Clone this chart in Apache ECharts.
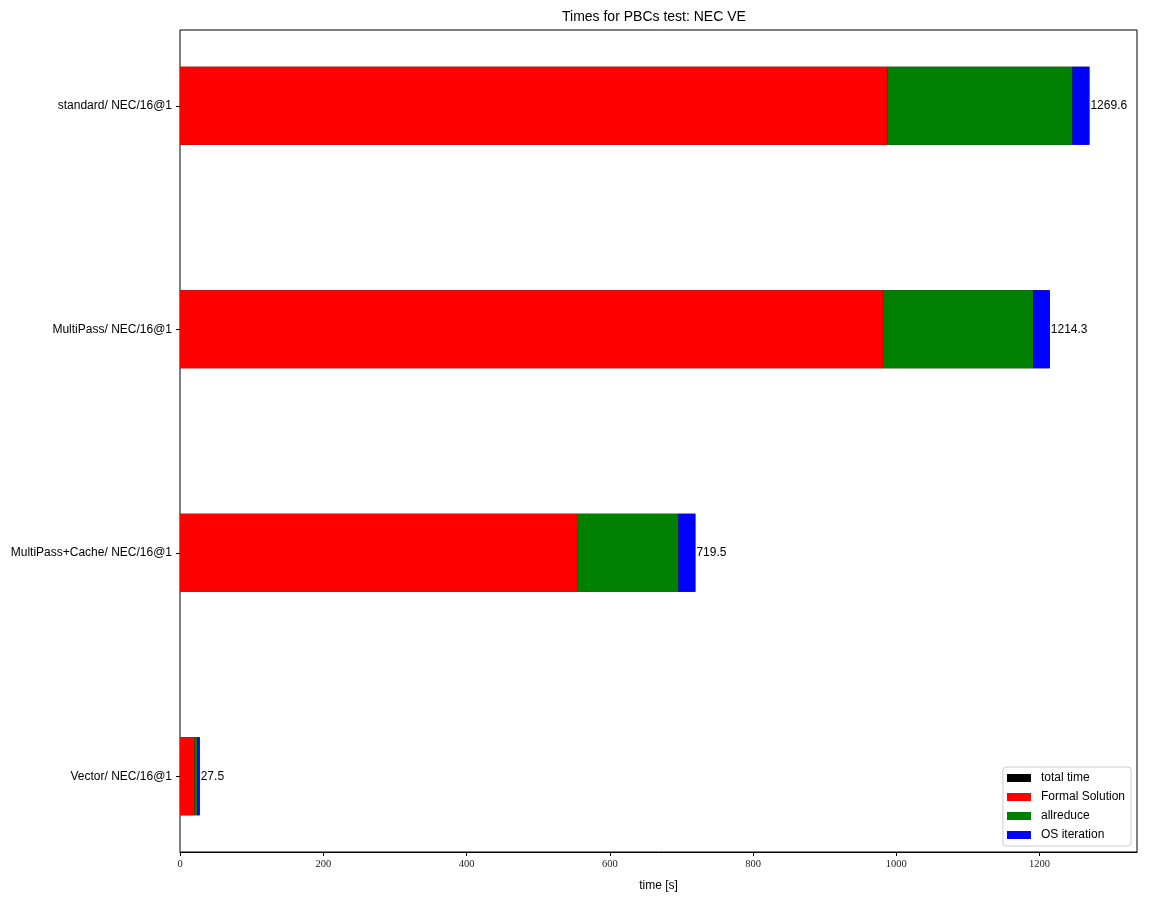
<!DOCTYPE html>
<html>
<head>
<meta charset="utf-8">
<script src="https://cdn.jsdelivr.net/npm/echarts@6/dist/echarts.min.js"></script>
<style>html,body{margin:0;padding:0;background:#fff;}#chart{width:1152px;height:902px;}</style>
</head>
<body>
<div id="chart"></div>
<script>
// categories listed bottom-to-top (ECharts category y-axis grows upward)
const categories = ['Vector/ NEC/16@1', 'MultiPass+Cache/ NEC/16@1', 'MultiPass/ NEC/16@1', 'standard/ NEC/16@1'];
const totalTime = [27.5, 719.5, 1214.3, 1269.6];
const formalSolution = [20.4, 554.4, 981.7, 987.7];
const allreduce = [3.3, 141.5, 209.5, 258.3];
const osIteration = [3.7, 23.5, 23.0, 23.5];
const xTicks = [0, 200, 400, 600, 800, 1000, 1200];

const xMax = 1336;
const font = 'Liberation Sans';
const chart = echarts.init(document.getElementById('chart'), null, {renderer: 'canvas'});
chart.setOption({
  animation: false,
  backgroundColor: '#fff',
  title: {
    text: 'Times for PBCs test: NEC VE',
    left: 562, top: 10, padding: 0,
    textStyle: {fontFamily: font, fontSize: 14, fontWeight: 'normal', color: '#000'}
  },
  legend: {
    orient: 'vertical', right: 21, bottom: 56, align: 'left',
    data: ['total time', 'Formal Solution', 'allreduce', 'OS iteration'],
    icon: 'rect', itemWidth: 24, itemHeight: 8, itemGap: 7,
    padding: [5, 6, 5, 4],
    borderColor: '#cccccc', borderWidth: 1, borderRadius: 3, backgroundColor: '#fff',
    textStyle: {fontFamily: font, fontSize: 12, color: '#000', lineHeight: 12, padding: [0, 0, 0, 5]}
  },
  grid: [
    {left: 180, right: 15, top: 30, bottom: 50, show: true, borderColor: '#000', borderWidth: 1,
      backgroundColor: 'transparent', outerBoundsMode: 'none', containLabel: false},
    {left: 180, right: 15, top: -6, height: 894, outerBoundsMode: 'none', containLabel: false}
  ],
  xAxis: [
    {
      gridIndex: 0, type: 'value', min: 0, max: xMax, interval: 200,
      name: 'time [s]', nameLocation: 'middle', nameGap: 28,
      nameTextStyle: {fontFamily: font, fontSize: 12, color: '#000'},
      axisLine: {show: true, lineStyle: {color: '#000', width: 1}},
      axisTick: {show: true, inside: false, length: 4, lineStyle: {color: '#000'}, customValues: xTicks},
      axisLabel: {
        fontFamily: 'Liberation Serif', fontSize: 10.5, color: '#222', margin: 7,
        customValues: xTicks, formatter: v => String(v)
      },
      splitLine: {show: false}
    },
    {gridIndex: 1, type: 'value', min: 0, max: xMax, show: false}
  ],
  yAxis: [
    {gridIndex: 0, type: 'value', show: false, min: 0, max: 1},
    {
      gridIndex: 1, type: 'category', data: categories,
      axisLine: {show: false},
      axisTick: {show: true, alignWithLabel: true, length: 4, lineStyle: {color: '#000'}},
      axisLabel: {fontFamily: font, fontSize: 12, color: '#000', margin: 8},
      splitLine: {show: false}
    }
  ],
  series: [
    {
      name: 'total time', type: 'bar', xAxisIndex: 1, yAxisIndex: 1, data: totalTime,
      barWidth: 78, barGap: '-100%', itemStyle: {color: '#000'},
      label: {show: true, position: 'right', distance: 1, fontFamily: font, fontSize: 12, color: '#000',
        formatter: p => p.value.toFixed(1)}
    },
    {name: 'Formal Solution', type: 'bar', stack: 'parts', xAxisIndex: 1, yAxisIndex: 1, data: formalSolution,
      barWidth: 78, barGap: '-100%', itemStyle: {color: '#ff0000'}},
    {name: 'allreduce', type: 'bar', stack: 'parts', xAxisIndex: 1, yAxisIndex: 1, data: allreduce,
      barWidth: 78, barGap: '-100%', itemStyle: {color: '#008000'}},
    {name: 'OS iteration', type: 'bar', stack: 'parts', xAxisIndex: 1, yAxisIndex: 1, data: osIteration,
      barWidth: 78, barGap: '-100%', itemStyle: {color: '#0000ff'}}
  ]
});
</script>
</body>
</html>
